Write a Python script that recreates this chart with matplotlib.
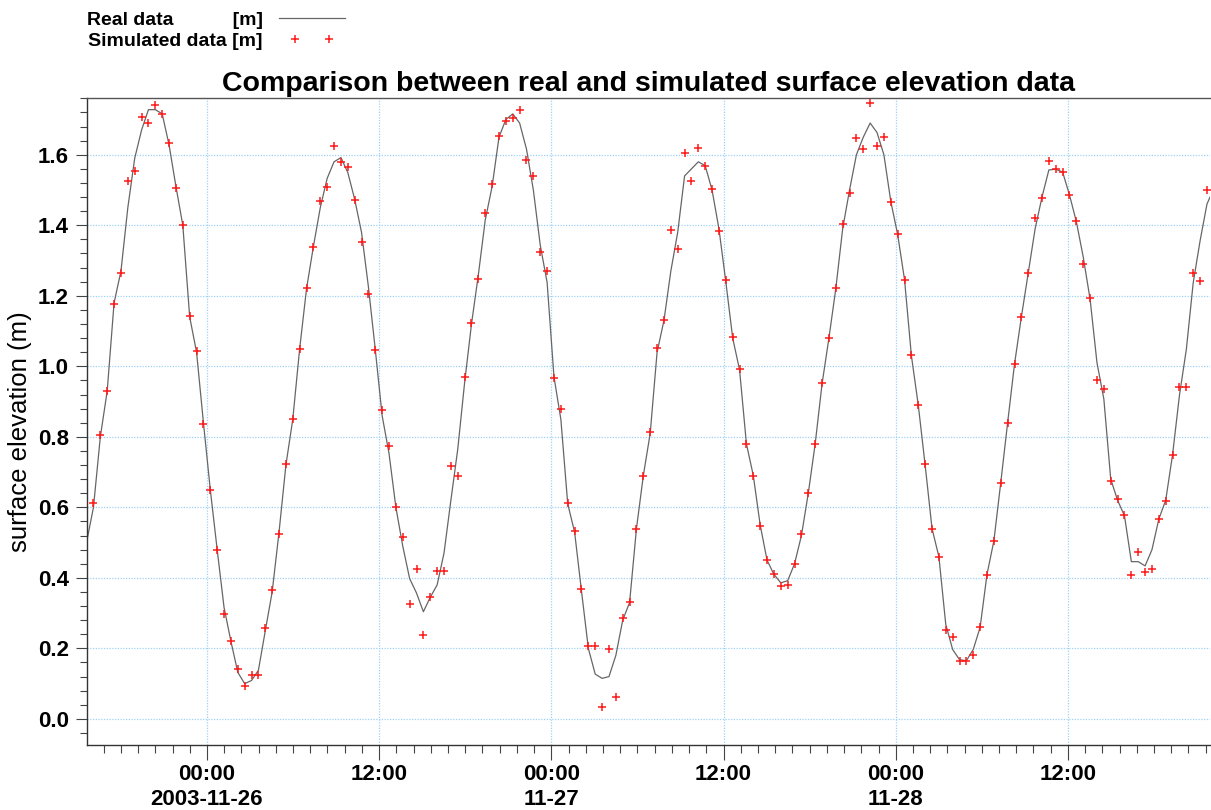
import numpy as np
import pandas as pd
import matplotlib
matplotlib.use("Agg")
import matplotlib.pyplot as plt
from matplotlib.lines import Line2D
from matplotlib.legend_handler import HandlerLine2D
from matplotlib.ticker import MultipleLocator, FuncFormatter

plt.rcParams["font.family"] = ["Liberation Sans", "DejaVu Sans"]

#
# Data (hours relative to 2003-11-26 00:00)
#
base_time = pd.Timestamp("2003-11-26 00:00")
x_start_h, x_end_h = -8.36, 69.9

# simulated series: regular sampling
sim_start_h = -7.91
sim_step_h = 0.479
sim_values = [
    0.613, 0.804, 0.929, 1.178, 1.266, 1.525, 1.553, 1.707, 1.690, 1.740,
    1.716, 1.632, 1.506, 1.402, 1.143, 1.044, 0.837, 0.649, 0.479, 0.297,
    0.220, 0.142, 0.092, 0.124, 0.124, 0.259, 0.365, 0.525,
    0.723, 0.852, 1.048, 1.222, 1.339, 1.470, 1.509, 1.625, 1.580, 1.566,
    1.472, 1.352, 1.204, 1.046, 0.876, 0.774, 0.600, 0.517, 0.325, 0.424,
    0.238, 0.345, 0.420, 0.420, 0.718, 0.689, 0.969,
    1.122, 1.249, 1.434, 1.518, 1.652, 1.697, 1.704, 1.728, 1.586, 1.539,
    1.325, 1.270, 0.966, 0.879, 0.611, 0.532, 0.368, 0.206, 0.206, 0.034,
    0.197, 0.061, 0.285, 0.332, 0.540, 0.689, 0.814, 1.051,
    1.131, 1.388, 1.333, 1.604, 1.527, 1.618, 1.569, 1.504, 1.384, 1.246,
    1.082, 0.993, 0.780, 0.690, 0.548, 0.452, 0.410, 0.377, 0.379, 0.439,
    0.524, 0.641, 0.781, 0.954, 1.080, 1.223, 1.405,
    1.491, 1.647, 1.615, 1.748, 1.625, 1.650, 1.466, 1.374, 1.246, 1.031,
    0.891, 0.723, 0.540, 0.460, 0.253, 0.233, 0.164, 0.164, 0.180, 0.261,
    0.409, 0.505, 0.670, 0.839, 1.006, 1.141, 1.264, 1.421,
    1.478, 1.583, 1.561, 1.551, 1.486, 1.412, 1.290, 1.194, 0.961, 0.936,
    0.676, 0.623, 0.578, 0.407, 0.473, 0.418, 0.424, 0.567, 0.619, 0.749,
    0.942, 0.942, 1.266, 1.241, 1.501,
]

# real series: read at the same times, plus both plot edges
real_values = [
    0.507,
    0.60, 0.80, 0.93, 1.18, 1.27, 1.45, 1.59, 1.67, 1.728, 1.728,
    1.716, 1.628, 1.51, 1.40, 1.14, 1.04, 0.84, 0.65, 0.48, 0.316,
    0.22, 0.132, 0.100, 0.109, 0.138, 0.25, 0.36, 0.53,
    0.72, 0.85, 1.05, 1.22, 1.34, 1.45, 1.533, 1.58, 1.592, 1.55,
    1.474, 1.38, 1.226, 1.048, 0.86, 0.753, 0.60, 0.49, 0.398, 0.357,
    0.304, 0.345, 0.38, 0.47, 0.62, 0.765, 0.954,
    1.12, 1.26, 1.415, 1.51, 1.65, 1.70, 1.716, 1.69, 1.616, 1.50,
    1.344, 1.238, 0.97, 0.85, 0.61, 0.53, 0.363, 0.20, 0.127, 0.115,
    0.12, 0.18, 0.28, 0.33, 0.54, 0.69, 0.81, 1.04,
    1.13, 1.27, 1.38, 1.54, 1.56, 1.58, 1.569, 1.50, 1.39, 1.24,
    1.08, 0.99, 0.78, 0.69, 0.55, 0.45, 0.41, 0.386, 0.392, 0.44,
    0.52, 0.64, 0.78, 0.95, 1.08, 1.22, 1.39,
    1.50, 1.60, 1.65, 1.69, 1.663, 1.60, 1.468, 1.374, 1.246, 1.03,
    0.89, 0.72, 0.54, 0.46, 0.268, 0.197, 0.168, 0.165, 0.197, 0.26,
    0.41, 0.505, 0.67, 0.84, 1.006, 1.14, 1.264, 1.39,
    1.48, 1.557, 1.559, 1.551, 1.486, 1.41, 1.31, 1.19, 1.01, 0.907,
    0.68, 0.62, 0.576, 0.446, 0.446, 0.434, 0.48, 0.567, 0.62, 0.75,
    0.918, 1.048, 1.237, 1.356, 1.46,
    1.48,
]

sim_t = sim_start_h + sim_step_h * np.arange(len(sim_values))
real_t = np.concatenate([[x_start_h], sim_t, [x_end_h]])

#
# Plot
#
fig = plt.figure(figsize=(12.11, 8.10), dpi=100)
ax = fig.add_axes([87 / 1211, 65 / 810, 1123 / 1211, 647 / 810])

ax.plot(real_t, real_values, color="#666666", lw=0.9, zorder=2)
ax.plot(sim_t, sim_values, ls="none", marker="+", ms=6, mew=1.1,
        color="#ff1a1a", zorder=3)

ax.set_xlim(x_start_h, x_end_h)
ax.set_ylim(-0.074, 1.761)


def fmt_hour(h, pos):
    ts = base_time + pd.Timedelta(hours=float(h))
    if ts.hour == 0:
        day = ts.strftime("%Y-%m-%d") if ts.day == 26 else ts.strftime("%m-%d")
        return ts.strftime("%H:%M") + "\n" + day
    return ts.strftime("%H:%M")


ax.xaxis.set_major_locator(MultipleLocator(12))
ax.xaxis.set_minor_locator(MultipleLocator(1.2))
ax.xaxis.set_major_formatter(FuncFormatter(fmt_hour))
ax.yaxis.set_major_locator(MultipleLocator(0.2))
ax.yaxis.set_minor_locator(MultipleLocator(0.04))
ax.yaxis.set_major_formatter(FuncFormatter(lambda v, p: f"{v:.1f}"))

ax.tick_params(axis="x", which="major", length=11, width=0.8, color="#444444",
               labelsize=16, pad=3)
ax.tick_params(axis="x", which="minor", length=6, width=0.8, color="#444444")
ax.tick_params(axis="y", which="major", length=8, width=0.8, color="#444444",
               labelsize=16, pad=5)
ax.tick_params(axis="y", which="minor", length=5, width=0.8, color="#444444")
for lab in ax.get_xticklabels() + ax.get_yticklabels():
    lab.set_fontweight("bold")
for lab in ax.get_xticklabels():
    lab.set_linespacing(1.2)

ax.grid(True, which="major", color="#9fd3f5", ls=(0, (1, 1.2)), lw=0.9)
ax.set_axisbelow(True)

ax.spines["right"].set_visible(False)
ax.spines["top"].set_color("#555555")
ax.spines["left"].set_color("#333333")
ax.spines["bottom"].set_color("#333333")
for s in ax.spines.values():
    s.set_linewidth(1.0)

ax.set_ylabel("surface elevation (m)", fontsize=18.5)
ax.yaxis.set_label_coords(-0.049, 0.485)
ax.set_title("Comparison between real and simulated surface elevation data",
             fontsize=20.5, fontweight="bold", pad=5)

real_handle = Line2D([], [], color="#666666", lw=0.9)
sim_handle = Line2D([], [], ls="none", marker="+", ms=6, mew=1.1, color="#ff1a1a")
ax.legend([real_handle, sim_handle],
          ["Real data           [m]", "Simulated data [m]"],
          handler_map={sim_handle: HandlerLine2D(numpoints=2, marker_pad=0.82)},
          loc="upper left", bbox_to_anchor=(75 / 1211, 1.0),
          bbox_transform=fig.transFigure, frameon=False, markerfirst=False,
          handlelength=3.4, handletextpad=0.82, labelspacing=0.15,
          borderaxespad=0.0, borderpad=0.6,
          prop={"weight": "bold", "size": 14})

fig.savefig("out.png", dpi=100)
